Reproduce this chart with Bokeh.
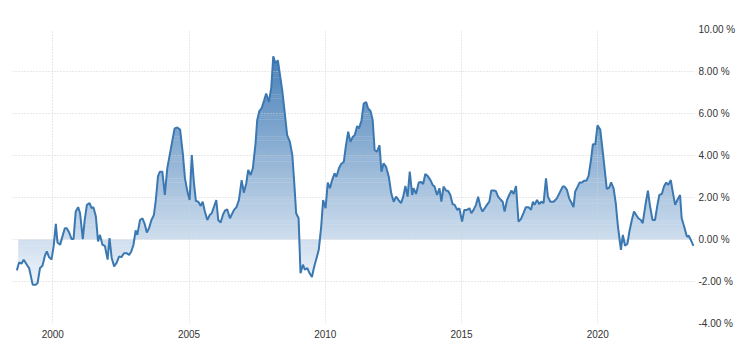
import numpy as np
from bokeh.plotting import figure
from bokeh.models import Range1d, FixedTicker, PrintfTickFormatter
from bokeh.embed import file_html
from bokeh.resources import INLINE

# ---- data (decimal year, value in %) ----
years = [1998.68, 1998.76, 1998.85, 1998.93, 1999.07, 1999.13, 1999.26, 1999.38, 1999.44, 1999.53,
         1999.62, 1999.71, 1999.78, 1999.86, 1999.95, 2000.03, 2000.11, 2000.17, 2000.27, 2000.36,
         2000.44, 2000.51, 2000.60, 2000.69, 2000.76, 2000.84, 2000.93, 2001.00, 2001.10, 2001.17,
         2001.25, 2001.35, 2001.42, 2001.49, 2001.58, 2001.66, 2001.73, 2001.82, 2001.91, 2002.01,
         2002.08, 2002.16, 2002.25, 2002.35, 2002.43, 2002.52, 2002.61, 2002.71, 2002.80, 2002.88,
         2002.96, 2003.04, 2003.10, 2003.20, 2003.29, 2003.37, 2003.45, 2003.53, 2003.62, 2003.71,
         2003.78, 2003.86, 2003.93, 2004.02, 2004.11, 2004.20, 2004.30, 2004.39, 2004.47, 2004.57,
         2004.67, 2004.77, 2004.85, 2004.94, 2005.02, 2005.10, 2005.18, 2005.25, 2005.34, 2005.43,
         2005.50, 2005.58, 2005.67, 2005.76, 2005.83, 2005.91, 2006.00, 2006.07, 2006.16, 2006.24,
         2006.32, 2006.40, 2006.50,
         2006.65, 2006.74, 2006.83, 2006.93, 2007.01, 2007.10, 2007.17, 2007.26, 2007.34, 2007.44,
         2007.50, 2007.58, 2007.66, 2007.75, 2007.83, 2007.93, 2008.02, 2008.09, 2008.17, 2008.26,
         2008.33, 2008.42, 2008.50, 2008.60, 2008.70, 2008.79, 2008.87, 2008.93, 2009.02, 2009.09,
         2009.18, 2009.25, 2009.34, 2009.42, 2009.51, 2009.58, 2009.68, 2009.76, 2009.85, 2009.92,
         2010.01, 2010.09, 2010.17, 2010.25, 2010.34, 2010.41, 2010.50, 2010.58, 2010.68, 2010.75,
         2010.84, 2010.92, 2011.01, 2011.08, 2011.17, 2011.24, 2011.33, 2011.41, 2011.50, 2011.57,
         2011.66, 2011.74, 2011.81, 2011.90, 2011.99, 2012.06, 2012.14, 2012.23, 2012.33, 2012.42,
         2012.51, 2012.60, 2012.69, 2012.78, 2012.86, 2012.94, 2013.02, 2013.10, 2013.19, 2013.24,
         2013.33, 2013.43, 2013.52, 2013.59, 2013.67, 2013.76, 2013.86, 2013.94, 2014.01, 2014.10,
         2014.19, 2014.26, 2014.34, 2014.43, 2014.51, 2014.59, 2014.67, 2014.75, 2014.84, 2014.92,
         2015.02, 2015.10, 2015.20, 2015.29, 2015.36, 2015.44, 2015.53, 2015.61, 2015.69, 2015.77,
         2015.85, 2015.93, 2016.02, 2016.09, 2016.18, 2016.26, 2016.34, 2016.42, 2016.51, 2016.58,
         2016.67, 2016.75, 2016.83, 2016.91, 2017.00, 2017.09, 2017.18, 2017.28, 2017.36, 2017.46,
         2017.55, 2017.62, 2017.68, 2017.77, 2017.85, 2017.93, 2018.01, 2018.10, 2018.17, 2018.26,
         2018.38, 2018.50, 2018.62, 2018.71, 2018.78, 2018.87, 2018.95, 2019.03, 2019.11, 2019.17,
         2019.26, 2019.33, 2019.42, 2019.50, 2019.58, 2019.66, 2019.75, 2019.82, 2019.91, 2019.99,
         2020.09, 2020.17, 2020.25, 2020.33, 2020.42, 2020.49, 2020.58, 2020.66, 2020.74, 2020.85,
         2020.92, 2021.00, 2021.09, 2021.16, 2021.25, 2021.33, 2021.41, 2021.49, 2021.58, 2021.65,
         2021.74, 2021.84, 2021.92, 2022.01, 2022.10, 2022.19, 2022.26, 2022.35, 2022.43, 2022.51,
         2022.59, 2022.68, 2022.75, 2022.84, 2022.92, 2023.02, 2023.08, 2023.17, 2023.27, 2023.34,
         2023.41, 2023.51]

values = [-1.47, -1.09, -1.15, -0.96, -1.25, -1.36, -2.15, -2.15, -2.07, -1.36,
          -1.25, -0.77, -0.57, -0.84, -0.96, -0.33, 0.75, -0.14, -0.25, 0.18,
          0.54, 0.54, 0.33, 0.02, 0.02, 1.33, 1.54, 1.25, 0.02, 0.93,
          1.65, 1.73, 1.49, 1.54, 1.09, -0.09, 0.22, -0.25, -0.30, -0.96,
          0.07, -0.88, -1.28, -1.09, -0.81, -0.84, -0.65, -0.65, -0.74, -0.57,
          -0.25, 0.43, 0.22, 0.93, 1.01, 0.75, 0.33, 0.54, 0.93, 1.17,
          1.88, 3.02, 3.23, 3.23, 2.12, 3.39, 4.10, 4.73, 5.29, 5.33,
          5.24, 4.10, 2.91, 2.28, 1.88, 4.02, 2.68, 1.84, 1.80, 1.60,
          1.80, 1.33, 0.93, 1.17, 1.25, 1.54, 1.88, 0.93, 0.81, 1.17,
          1.38, 1.44, 1.01,
          1.41, 1.54, 1.88, 2.83, 2.23, 2.68, 3.31, 3.07, 3.39, 4.58,
          5.68, 6.12, 6.24, 6.60, 6.95, 6.55, 7.26, 8.72, 8.40, 8.53,
          7.90, 7.10, 6.16, 4.97, 4.65, 4.02, 2.52, 1.25, 1.01, -1.60,
          -1.20, -1.44, -1.36, -1.60, -1.79, -1.36, -0.88, -0.49, 0.62, 1.88,
          1.49, 2.71, 2.44, 2.83, 3.15, 2.99, 3.39, 3.59, 3.70, 4.41,
          5.13, 4.65, 4.89, 4.97, 5.40, 5.29, 5.68, 6.47, 6.55, 6.24,
          6.12, 5.68, 4.26, 4.18, 4.49, 3.23, 3.63, 3.46, 2.99, 2.20,
          1.80, 2.04, 1.88, 1.73, 2.04, 2.55, 2.04, 3.23, 2.12, 2.44,
          2.17, 2.71, 2.74, 2.64, 3.12, 3.02, 2.83, 2.60, 2.52, 2.12,
          2.44, 1.80, 2.52, 2.33, 2.31, 2.12, 1.69, 1.65, 1.41, 1.49,
          0.85, 1.41, 1.41, 1.49, 1.25, 1.41, 1.65, 2.04, 1.57, 1.33,
          1.49, 1.65, 1.80, 2.33, 2.33, 2.31, 2.04, 1.92, 1.80, 1.33,
          1.88, 2.12, 2.33, 2.17, 2.55, 0.85, 0.97, 1.28, 1.54, 1.54,
          1.41, 1.80, 1.65, 1.88, 1.69, 1.80, 1.73, 2.91, 2.04, 1.80,
          1.80, 1.96, 2.28, 2.52, 2.52, 2.36, 1.96, 1.76, 1.54, 2.28,
          2.52, 2.71, 2.71, 2.80, 2.80, 3.02, 3.78, 4.53, 4.54, 5.44,
          5.24, 4.34, 3.39, 2.41, 2.47, 2.72, 2.44, 1.73, 0.62, -0.49,
          0.22, -0.30, -0.20, 0.38, 0.93, 1.33, 1.17, 1.01, 0.93, 0.78,
          1.57, 2.33, 1.57, 0.93, 0.93, 1.65, 2.12, 2.17, 2.52, 2.71,
          2.60, 2.83, 2.28, 1.65, 1.88, 2.12, 1.01, 0.62, 0.14, 0.18,
          -0.01, -0.30]

x_ticks = [2000, 2005, 2010, 2015, 2020]
y_ticks = [-4, -2, 0, 2, 4, 6, 8, 10]

yr = np.array(years)
v = np.array(values)

FONT = "Liberation Sans"
LINE = "#3b78b2"

p = figure(width=750, height=360, output_backend="svg", toolbar_location=None,
           x_range=Range1d(1998.52, 2023.55), y_range=Range1d(-4, 10),
           y_axis_location="right",
           min_border_left=12, min_border_right=56, min_border_top=29, min_border_bottom=37)
p.outline_line_color = None
p.background_fill_color = "white"
p.border_fill_color = "white"

# ---- gradient fill: horizontal colour bands, then white masks outside the area ----
edges = np.arange(-2.4, 8.81, 0.1)
bot = edges[:-1]
top = edges[1:] + 0.02
mid = (bot + edges[1:]) / 2
t = np.clip((8.7 - mid) / (8.7 + 2.2), 0, 1)
c_top = np.array([72, 128, 184])
c_bot = np.array([240, 245, 251])
cols = ["#%02x%02x%02x" % tuple(int(round(c)) for c in (c_top + tt * (c_bot - c_top))) for tt in t]
inset = 0.05
bands = p.quad(left=yr[0] + inset, right=yr[-1] - inset, bottom=bot, top=top,
               fill_color=cols, line_color=None)
bands.level = "image"

m1 = p.varea(x=yr, y1=np.maximum(v, 0), y2=10.5, fill_color="white")
m2 = p.varea(x=yr, y1=-4.5, y2=np.minimum(v, 0), fill_color="white")
m1.level = "image"
m2.level = "image"

ln = p.line(yr, v, line_color=LINE, line_width=2)

# ---- axes ----
p.xaxis.ticker = FixedTicker(ticks=x_ticks)
p.yaxis.ticker = FixedTicker(ticks=y_ticks)
p.xgrid.ticker = FixedTicker(ticks=x_ticks)
p.ygrid.ticker = FixedTicker(ticks=y_ticks)
p.yaxis.formatter = PrintfTickFormatter(format="%.2f %%")

for ax in (p.xaxis, p.yaxis):
    ax.axis_line_color = None
    ax.major_tick_line_color = None
    ax.minor_tick_line_color = None
    ax.major_tick_in = 0
    ax.major_tick_out = 0
    ax.major_label_text_font = FONT
    ax.major_label_text_font_size = "10px"
    ax.major_label_text_color = "#333333"
p.xaxis.major_label_standoff = 6
p.yaxis.major_label_standoff = 4

for g in (p.xgrid, p.ygrid):
    g.grid_line_color = "#d2d2d2"
    g.grid_line_dash = "1 2"
    g.grid_line_width = 1
    g.level = "underlay"

open("out.html", "w").write(file_html(p, INLINE))
